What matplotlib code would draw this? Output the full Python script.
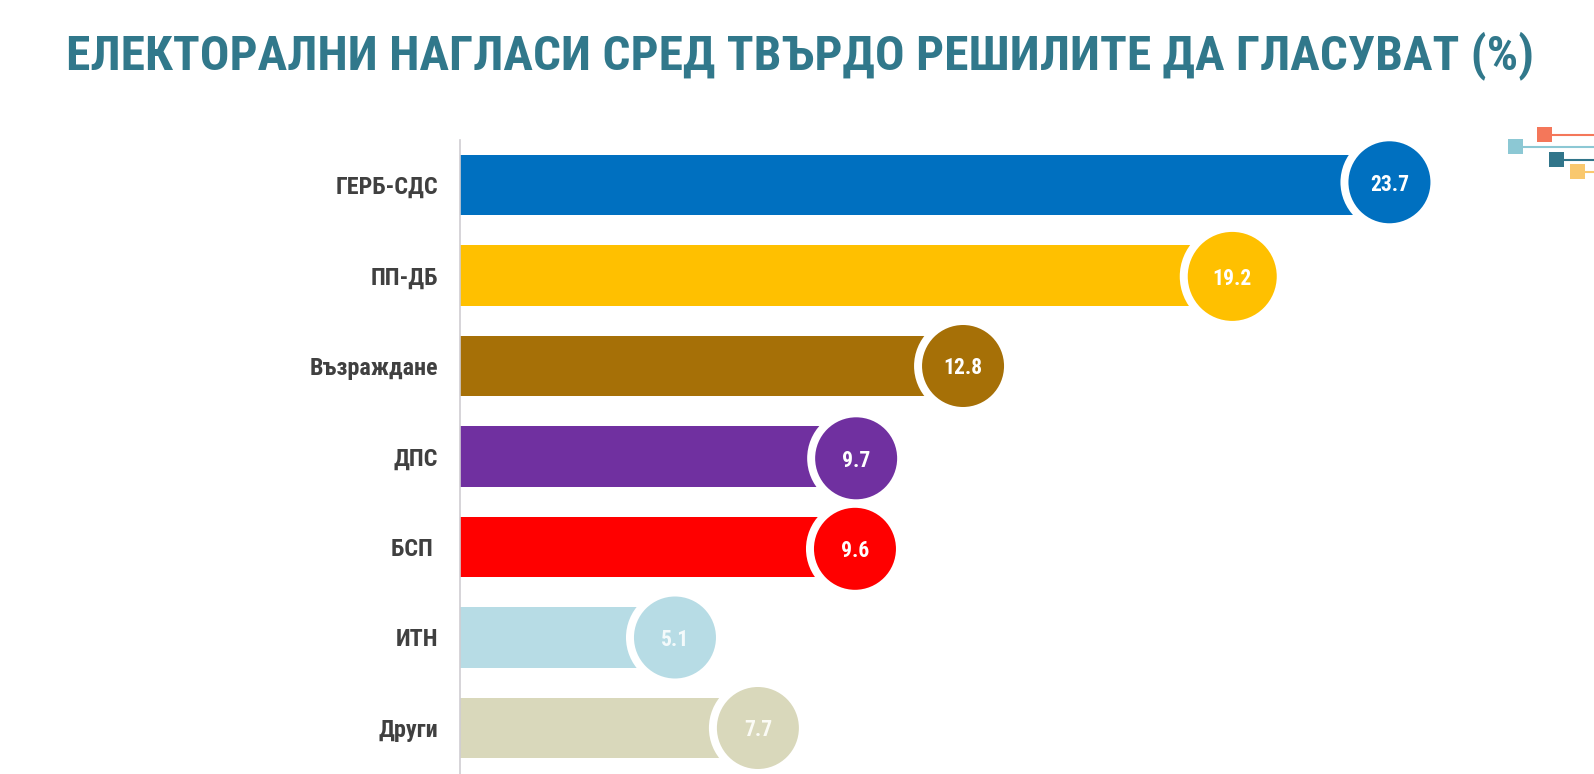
import matplotlib
matplotlib.use("Agg")
from matplotlib import pyplot as plt
from matplotlib.patches import Rectangle
import numpy as np

parties = ["ГЕРБ-СДС", "ПП-ДБ", "Възраждане", "ДПС", "БСП ", "ИТН", "Други"]
values = [23.7, 19.2, 12.8, 9.7, 9.6, 5.1, 7.7]
# bars in the slide are not quite to scale, so lengths are read off separately
bar_lengths = [23.65, 19.65, 12.8, 10.08, 10.05, 5.47, 7.58]
colors = ["#0070C0", "#FFC000", "#A67007", "#7030A0", "#FF0000", "#B7DCE5", "#D9D8BB"]
label_colors = ["white", "white", "white", "white", "white", "#F4FAFB", "#FBFBF5"]
circle_shift = [-0.03, 0.01, 0, 0.02, 0.02, 0, 0]
circle_px = [82, 89, 82, 82, 82, 82, 82]

W, H = 1594, 774
plt.rcParams["font.family"] = ["Roboto Condensed", "Liberation Sans", "DejaVu Sans"]

fig = plt.figure(figsize=(W / 100, H / 100), dpi=100, facecolor="white")
ax = fig.add_axes([460 / W, 0, (W - 460) / W, (H - 140) / H])

y = np.arange(len(parties))
ax.barh(y, bar_lengths, height=0.663, color=colors, zorder=2)

# white ring first, then the coloured circle on top
cy = y + np.array(circle_shift)
sizes = (np.array(circle_px) * 0.72) ** 2
ring = (np.array(circle_px) * 0.72 + 11.5) ** 2
ax.scatter(bar_lengths, cy, s=ring, color="white", linewidths=0, zorder=3, clip_on=False)
ax.scatter(bar_lengths, cy, s=sizes, color=colors, linewidths=0, zorder=4, clip_on=False)

for xv, yv, v, c in zip(bar_lengths, cy, values, label_colors):
    ax.text(xv, yv, f"{v:.1f}", color=c, fontsize=15.5, fontweight="bold",
            ha="center", va="center_baseline", zorder=5)

ax.set_xlim(0, (W - 460) / 39.3)
ax.set_ylim((H - 185) / 90.5, -45 / 90.5)
ax.set_yticks(y)
ax.set_yticklabels(parties, fontsize=17.4, fontweight="bold", color="#404040")
ax.tick_params(axis="y", length=0, pad=16)
ax.set_xticks([])
for s in ["top", "right", "bottom"]:
    ax.spines[s].set_visible(False)
ax.spines["left"].set_color("#D0CDD2")
ax.spines["left"].set_linewidth(1.2)

fig.text(66 / W, 1 - 56 / H, "ЕЛЕКТОРАЛНИ НАГЛАСИ СРЕД ТВЪРДО РЕШИЛИТЕ ДА ГЛАСУВАТ (%)",
         fontsize=35.55, fontweight="bold", color="#31788B", ha="left", va="center")

# little slide decoration top right
decor = [(1537, 127, "#F4775A"), (1508, 139, "#8CC8D4"), (1549, 152, "#31758A"), (1570, 164, "#F9C86E")]
for px, py, c in decor:
    fig.add_artist(Rectangle((px / W, 1 - (py + 15) / H), 15 / W, 15 / H, color=c,
                             transform=fig.transFigure, linewidth=0))
    fig.add_artist(plt.Line2D([(px + 15) / W, 1], [1 - (py + 7.5) / H] * 2, color=c, linewidth=1.5,
                              transform=fig.transFigure))

fig.savefig("out.png", dpi=100)
